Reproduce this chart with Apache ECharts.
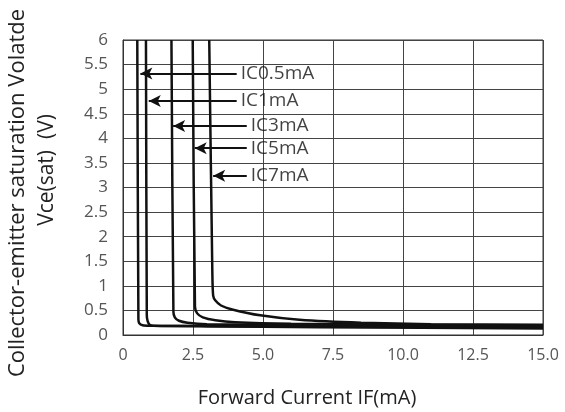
<!DOCTYPE html>
<html>
<head>
<meta charset="utf-8">
<script src="https://cdn.jsdelivr.net/npm/echarts@6/dist/echarts.min.js"></script>
<style>html,body{margin:0;padding:0;background:#fff;}#c{width:565px;height:412px;}</style>
</head>
<body>
<div id="c"></div>
<script>
// ---- data ----
var seriesNames = ['IC0.5mA', 'IC1mA', 'IC3mA', 'IC5mA', 'IC7mA'];
var ic05 = [[0.51,6],[0.55,0.32],[0.58,0.24],[0.7,0.2],[1.0,0.19],[3,0.18],[7,0.16],[15,0.13]];
var ic1  = [[0.82,6],[0.85,0.4],[0.88,0.28],[0.95,0.21],[1.1,0.19],[3,0.18],[8,0.17],[15,0.15]];
var ic3  = [[1.73,6],[1.80,0.48],[1.85,0.36],[2.0,0.29],[2.3,0.25],[3,0.22],[6,0.2],[15,0.17]];
var ic5  = [[2.49,6],[2.57,0.58],[2.65,0.44],[2.85,0.36],[3.3,0.3],[4,0.26],[6,0.23],[15,0.19]];
var ic7  = [[3.08,6],[3.19,1.3],[3.22,0.8],[3.3,0.7],[3.5,0.6],[3.9,0.52],[4.9,0.4],[6.3,0.31],[8.5,0.25],[11,0.22],[15,0.21]];
var curves = [ic05, ic1, ic3, ic5, ic7];
// annotation arrows: y value, arrow tip x, arrow tail x
var annoY    = [5.32, 4.76, 4.25, 3.80, 3.24];
var annoTip  = [0.62, 0.92, 1.79, 2.56, 3.22];
var annoTail = [4.06, 4.06, 4.42, 4.42, 4.42];
var xTickValues = [0, 2.5, 5, 7.5, 10, 12.5, 15];
var xTickLabels = ['0', '2.5', '5.0', '7.5', '10.0', '12.5', '15.0'];
var xTitle = 'Forward Current IF(mA)';
var yTitle1 = 'Collector-emitter saturation Volatde';
var yTitle2 = 'Vce(sat)  (V)';

var FONT = "'Open Sans', 'DejaVu Sans', sans-serif";
var chart = echarts.init(document.getElementById('c'), null, {renderer: 'canvas'});

var series = [];
curves.forEach(function (d, i) {
  series.push({
    type: 'line', name: seriesNames[i], data: d, showSymbol: false, smooth: 0.25,
    lineStyle: {color: '#111', width: 2.5}, z: 5, silent: true
  });
});
// arrows
series.push({
  type: 'line', data: [], silent: true,
  markLine: {
    silent: true, animation: false,
    symbol: ['none', 'arrow'], symbolSize: [9, 12],
    lineStyle: {color: '#111', width: 2, type: 'solid'},
    label: {show: false},
    data: annoY.map(function (y, i) {
      return [{coord: [annoTail[i], y]}, {coord: [annoTip[i], y]}];
    })
  }
});
// arrow labels
series.push({
  type: 'scatter', symbolSize: 0, silent: true,
  data: annoY.map(function (y, i) { return {value: [annoTail[i], y], name: seriesNames[i]}; }),
  label: {show: true, position: 'right', distance: 4, formatter: '{b}', color: '#111', fontSize: 19, fontFamily: FONT}
});

chart.setOption({
  animation: false,
  grid: {left: 123, right: 22, top: 40, bottom: 77, show: true, borderColor: '#333', borderWidth: 1},
  xAxis: {
    type: 'value', min: 0, max: 15, interval: 2.5,
    axisLine: {show: true, lineStyle: {color: '#333', width: 1}},
    axisTick: {show: false},
    splitLine: {show: true, lineStyle: {color: '#444', width: 1}},
    axisLabel: {
      color: '#555', fontSize: 16, fontFamily: FONT, margin: 12,
      formatter: function (v) {
        var k = xTickValues.indexOf(v);
        return k >= 0 ? xTickLabels[k] : '';
      }
    }
  },
  yAxis: {
    type: 'value', min: 0, max: 6, interval: 0.5,
    axisLine: {show: true, lineStyle: {color: '#333', width: 1}},
    axisTick: {show: false},
    splitLine: {show: true, lineStyle: {color: '#444', width: 1}},
    axisLabel: {color: '#555', fontSize: 17, fontFamily: FONT, margin: 15}
  },
  graphic: [
    {type: 'text', x: 307, y: 398, style: {text: xTitle, fill: '#222', font: '20px ' + FONT, textAlign: 'center', textVerticalAlign: 'middle'}},
    {type: 'text', x: 18, y: 193, rotation: Math.PI / 2, style: {text: yTitle1, fill: '#222', font: '22px ' + FONT, textAlign: 'center', textVerticalAlign: 'middle'}},
    {type: 'text', x: 47, y: 170, rotation: Math.PI / 2, style: {text: yTitle2, fill: '#222', font: '21px ' + FONT, textAlign: 'center', textVerticalAlign: 'middle'}}
  ],
  series: series
});
</script>
</body>
</html>
